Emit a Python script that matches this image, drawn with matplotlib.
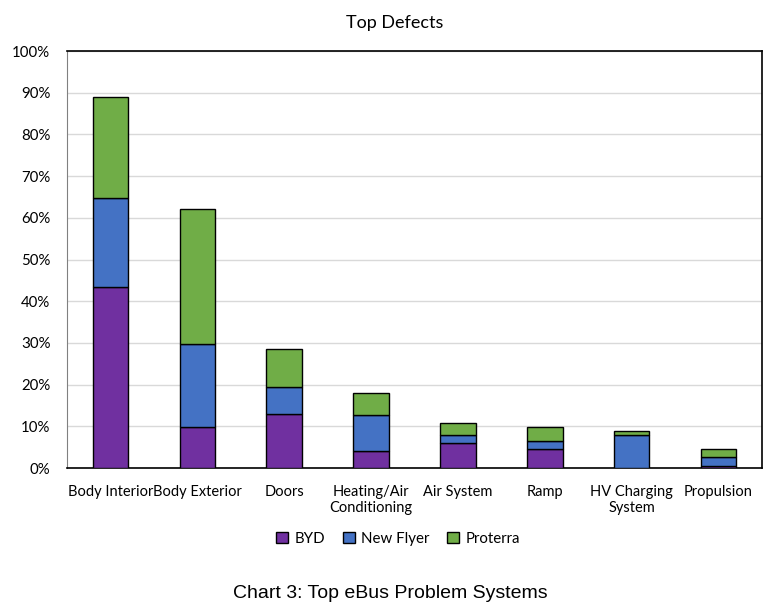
import matplotlib.pyplot as plt
import numpy as np
from matplotlib.ticker import PercentFormatter
from matplotlib.patches import Patch

categories = ["Body Interior", "Body Exterior", "Doors", "Heating/Air\nConditioning",
              "Air System", "Ramp", "HV Charging\nSystem", "Propulsion"]
byd = [43.5, 9.9, 12.9, 4.1, 5.9, 4.5, 0.0, 0.4]
new_flyer = [21.2, 19.8, 6.5, 8.6, 1.9, 2.0, 7.8, 2.2]
proterra = [24.3, 32.3, 9.2, 5.4, 3.1, 3.4, 1.1, 2.0]

plt.rcParams["font.family"] = ["Lato", "DejaVu Sans"]

fig = plt.figure(figsize=(7.73, 6.11), dpi=100)
ax = fig.add_axes([0.0867, 0.234, 0.899, 0.6825])

x = np.arange(len(categories))
w = 0.41
byd_a = np.array(byd)
nf_a = np.array(new_flyer)
ax.bar(x, byd_a, w, color="#7030A0", edgecolor="black", linewidth=1, zorder=3)
ax.bar(x, nf_a, w, bottom=byd_a, color="#4472C4", edgecolor="black", linewidth=1, zorder=3)
ax.bar(x, proterra, w, bottom=byd_a + nf_a, color="#70AD47", edgecolor="black", linewidth=1, zorder=3)

ax.set_xlim(-0.5, len(categories) - 0.5)
ax.set_ylim(0, 100)
ax.set_yticks(np.arange(0, 101, 10))
ax.yaxis.set_major_formatter(PercentFormatter(decimals=0))
ax.grid(axis="y", color="#d9d9d9", linewidth=1, zorder=0)
ax.set_xticks(x)
ax.set_xticklabels(categories, fontsize=10.5)
ax.tick_params(axis="x", length=0, labelsize=10.5, pad=12)
ax.tick_params(axis="y", length=0, labelsize=10.8, pad=12)
ax.spines["left"].set_color("#808080")
for s in ["top", "right", "bottom"]:
    ax.spines[s].set_color("black")
    ax.spines[s].set_linewidth(1.2)

fig.text(0.511, 0.963, "Top Defects", ha="center", va="center", fontsize=13)

handles = [Patch(facecolor=c, edgecolor="black", label=l)
           for c, l in zip(["#7030A0", "#4472C4", "#70AD47"], ["BYD", "New Flyer", "Proterra"])]
fig.legend(handles=handles, loc="center", bbox_to_anchor=(0.515, 0.118), ncol=3, frameon=False,
           fontsize=10.8, handlelength=0.8, handleheight=0.8, handletextpad=0.4, columnspacing=1.2)

fig.text(0.505, 0.028, "Chart 3: Top eBus Problem Systems", ha="center", va="center",
         fontsize=14, family="Liberation Sans")

fig.savefig("out.png", dpi=100)
